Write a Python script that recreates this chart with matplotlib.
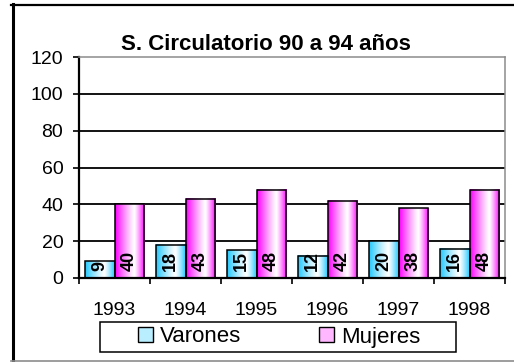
import numpy as np
import matplotlib
matplotlib.use('Agg')
import matplotlib.pyplot as plt
from matplotlib.lines import Line2D
from matplotlib.patches import Rectangle, Patch
from matplotlib.colors import to_rgb

plt.rcParams['font.family'] = ['Liberation Sans', 'DejaVu Sans']

years = ['1993', '1994', '1995', '1996', '1997', '1998']
varones = [9, 18, 15, 12, 20, 16]
mujeres = [40, 43, 48, 42, 38, 48]
yticks = [0, 20, 40, 60, 80, 100, 120]

W, H = 514, 362
fig = plt.figure(figsize=(W / 100, H / 100), dpi=100)
fig.patch.set_facecolor('white')

ax = fig.add_axes([79 / W, 84 / H, 426 / W, 221 / H])


def gradient(base, n=80, peak=0.65):
    # saturated at both edges, fading to white near the middle-right
    s = np.linspace(0, 1, n)
    w = np.where(s < peak, (peak - s) / peak, (s - peak) / (1 - peak))
    w = np.clip(w, 0, 1) ** 1.2
    b = np.array(to_rgb(base))
    return (1 - w[:, None] * (1 - b[None, :]))[None, :, :]


x = np.arange(len(years))
bw = 0.42
series = [(varones, -bw / 2, '#22C8FF'), (mujeres, bw / 2, '#FF00FF')]

for vals, off, col in series:
    img = gradient(col)
    for xi, v in zip(x, vals):
        x0 = xi + off - bw / 2
        ax.imshow(img, extent=(x0, x0 + bw, 0, v), aspect='auto',
                  interpolation='bilinear', zorder=2)
    ax.bar(x + off, vals, bw, fill=False, edgecolor='black', linewidth=1.1, zorder=3)
    for xi, v in zip(x, vals):
        ax.text(xi + off, 4, str(v), rotation=90, ha='center', va='bottom',
                fontsize=13, fontweight='bold', color='black', zorder=4)

ax.set_xlim(-0.5, len(years) - 0.5)
ax.set_ylim(0, 120)

# horizontal grid
for yv in yticks[1:-1]:
    ax.axhline(yv, color='black', linewidth=1.3, zorder=1)

ax.set_yticks(yticks)
ax.tick_params(axis='y', direction='out', length=4.3, width=1.2, pad=7, labelsize=14)

ax.set_xticks(x)
ax.set_xticklabels(years)
ax.set_xticks(np.arange(-0.5, len(years)), minor=True)
ax.tick_params(axis='x', which='major', length=0, pad=17, labelsize=14)
ax.tick_params(axis='x', which='minor', direction='out', length=4.3, width=1.2)

for side in ['left', 'bottom']:
    ax.spines[side].set_color('black')
    ax.spines[side].set_linewidth(1.6)
for side in ['top', 'right']:
    ax.spines[side].set_color('#8c8c8c')
    ax.spines[side].set_linewidth(1.1)

fig.text(266 / W, 1 - 50 / H, 'S. Circulatorio 90 a 94 años', ha='center', va='baseline',
         fontsize=16, fontweight='bold')

# legend box
fig.add_artist(Rectangle((100 / W, 1 - 352 / H), 356 / W, 30 / H, transform=fig.transFigure,
                         facecolor='white', edgecolor='black', linewidth=1.1))
handles = [Patch(facecolor='#B8EEFF', edgecolor='black', linewidth=1.0, label='Varones'),
           Patch(facecolor='#FFB8FF', edgecolor='black', linewidth=1.0, label='Mujeres')]
fig.legend(handles=handles, ncol=2, loc='center', bbox_to_anchor=(279 / W, 1 - 337 / H),
           frameon=False, fontsize=16, handlelength=0.68, handleheight=0.68,
           handletextpad=0.32, columnspacing=3.5, borderpad=0)

# outer frame
fig.add_artist(Line2D([11 / W, 1], [1 - 5 / H, 1 - 5 / H], transform=fig.transFigure,
                      color='black', linewidth=1.6))
fig.add_artist(Line2D([12.5 / W, 12.5 / W], [1 - 4 / H, 1 - 361 / H], transform=fig.transFigure,
                      color='black', linewidth=2.2))
fig.add_artist(Line2D([11 / W, 1], [1 - 360.5 / H, 1 - 360.5 / H], transform=fig.transFigure,
                      color='#8c8c8c', linewidth=1.2))

fig.savefig('out.png', dpi=100)
